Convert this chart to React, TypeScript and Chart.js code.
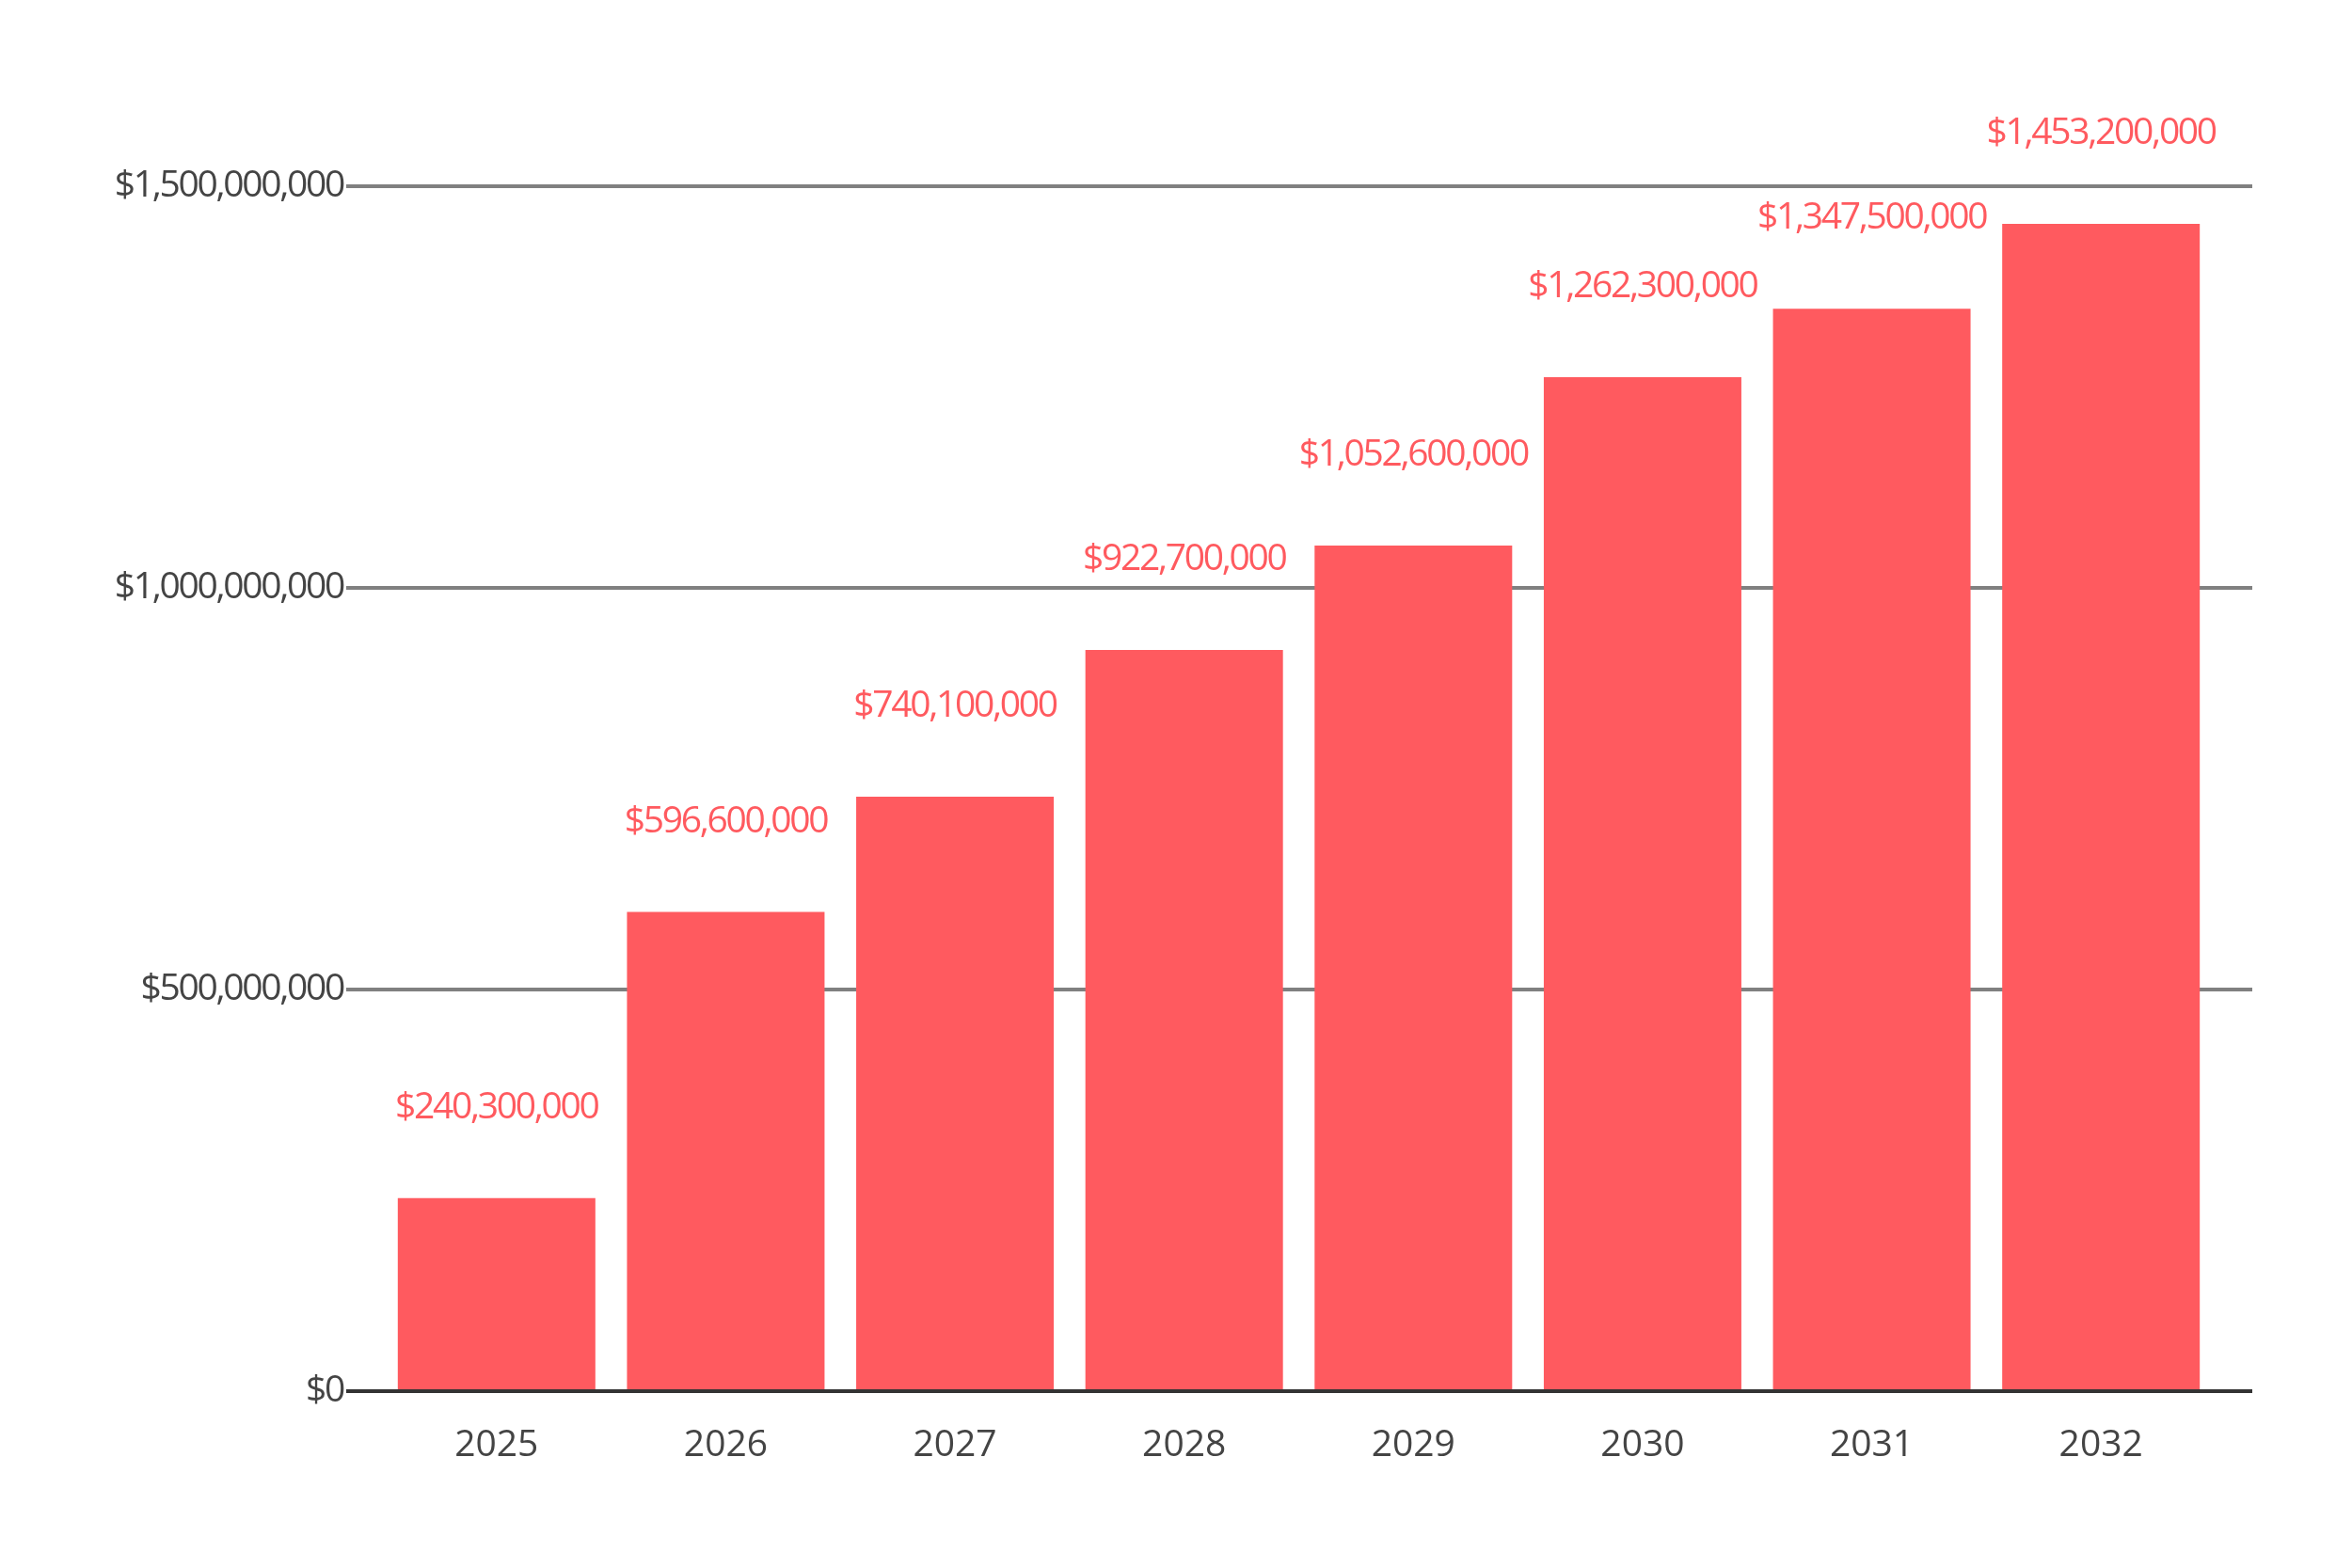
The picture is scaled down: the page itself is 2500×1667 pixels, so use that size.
import React, { useEffect, useRef } from "react";
import { Chart, registerables } from "chart.js";

Chart.register(...registerables);

const years = ["2025", "2026", "2027", "2028", "2029", "2030", "2031", "2032"];
const revenue = [240300000, 596600000, 740100000, 922700000, 1052600000, 1262300000, 1347500000, 1453200000];
const yTicks = [0, 500000000, 1000000000, 1500000000];

const RED = "#FF5A5F";
const TEXT = "#444444";
const FONT = "'Open Sans'";

const money = (v: number) => "$" + Math.round(v).toLocaleString("en-US");

const customPlugin = {
  id: "custom",
  beforeDraw(chart: any) {
    chart.ctx.letterSpacing = "0px";
  },
  beforeDatasetsDraw(chart: any) {
    const { ctx, chartArea, scales } = chart;
    const y = scales.y;
    ctx.save();
    ctx.strokeStyle = "#808080";
    ctx.lineWidth = 4;
    y.ticks.forEach((t: any) => {
      if (t.value === 0) return;
      const py = Math.round(y.getPixelForValue(t.value));
      ctx.beginPath();
      ctx.moveTo(chartArea.left - 38, py);
      ctx.lineTo(chartArea.right + 39, py);
      ctx.stroke();
    });
    ctx.restore();
  },
  afterDatasetsDraw(chart: any) {
    const { ctx, chartArea, scales } = chart;
    const y = scales.y;
    ctx.save();
    ctx.strokeStyle = "#333333";
    ctx.lineWidth = 4;
    const py0 = Math.round(y.getPixelForValue(0));
    ctx.beginPath();
    ctx.moveTo(chartArea.left - 38, py0);
    ctx.lineTo(chartArea.right + 39, py0);
    ctx.stroke();

    ctx.fillStyle = RED;
    ctx.font = `normal 400 39px ${FONT}`;
    ctx.letterSpacing = "-2.3px";
    ctx.textAlign = "center";
    ctx.textBaseline = "middle";
    const meta = chart.getDatasetMeta(0);
    meta.data.forEach((bar: any, i: number) => {
      ctx.fillText(money(revenue[i]), bar.x, bar.y - 96);
    });
    ctx.restore();
    // applies to the y tick labels drawn after datasets (ticks.z = 1)
    ctx.letterSpacing = "-2.3px";
  },
};

export default function App() {
  const ref = useRef<HTMLCanvasElement>(null);
  useEffect(() => {
    if (!ref.current) return;
    const chart = new Chart(ref.current, {
      type: "bar",
      data: {
        labels: years,
        datasets: [
          {
            data: revenue,
            backgroundColor: RED,
            borderWidth: 0,
            categoryPercentage: 0.862,
            barPercentage: 1,
          },
        ],
      },
      options: {
        animation: false,
        responsive: false,
        devicePixelRatio: 1,
        layout: { padding: { left: 0, right: 145, top: 198, bottom: 0 } },
        plugins: {
          legend: { display: false },
          tooltip: { enabled: false },
        },
        scales: {
          x: {
            grid: { display: false },
            border: { display: false },
            ticks: {
              color: TEXT,
              font: { family: FONT, size: 39, weight: "400" },
              padding: 26,
            },
            afterFit: (s: any) => {
              s.height = 188;
            },
          },
          y: {
            min: 0,
            max: 1500000000,
            afterBuildTicks: (s: any) => {
              s.ticks = yTicks.map((v) => ({ value: v }));
            },
            grid: { display: false },
            border: { display: false },
            ticks: {
              z: 1,
              color: TEXT,
              font: { family: FONT, size: 39, weight: "400" },
              padding: 33,
              callback: (v: any) => money(Number(v)),
            },
            afterFit: (s: any) => {
              s.width = 406;
            },
          },
        },
      },
      plugins: [customPlugin],
    });
    return () => chart.destroy();
  }, []);
  return (
    <div style={{ position: "absolute", left: 0, top: 0, width: 2500, height: 1667, background: "#fff" }}>
      <canvas ref={ref} width={2500} height={1667} style={{ display: "block" }} />
    </div>
  );
}
